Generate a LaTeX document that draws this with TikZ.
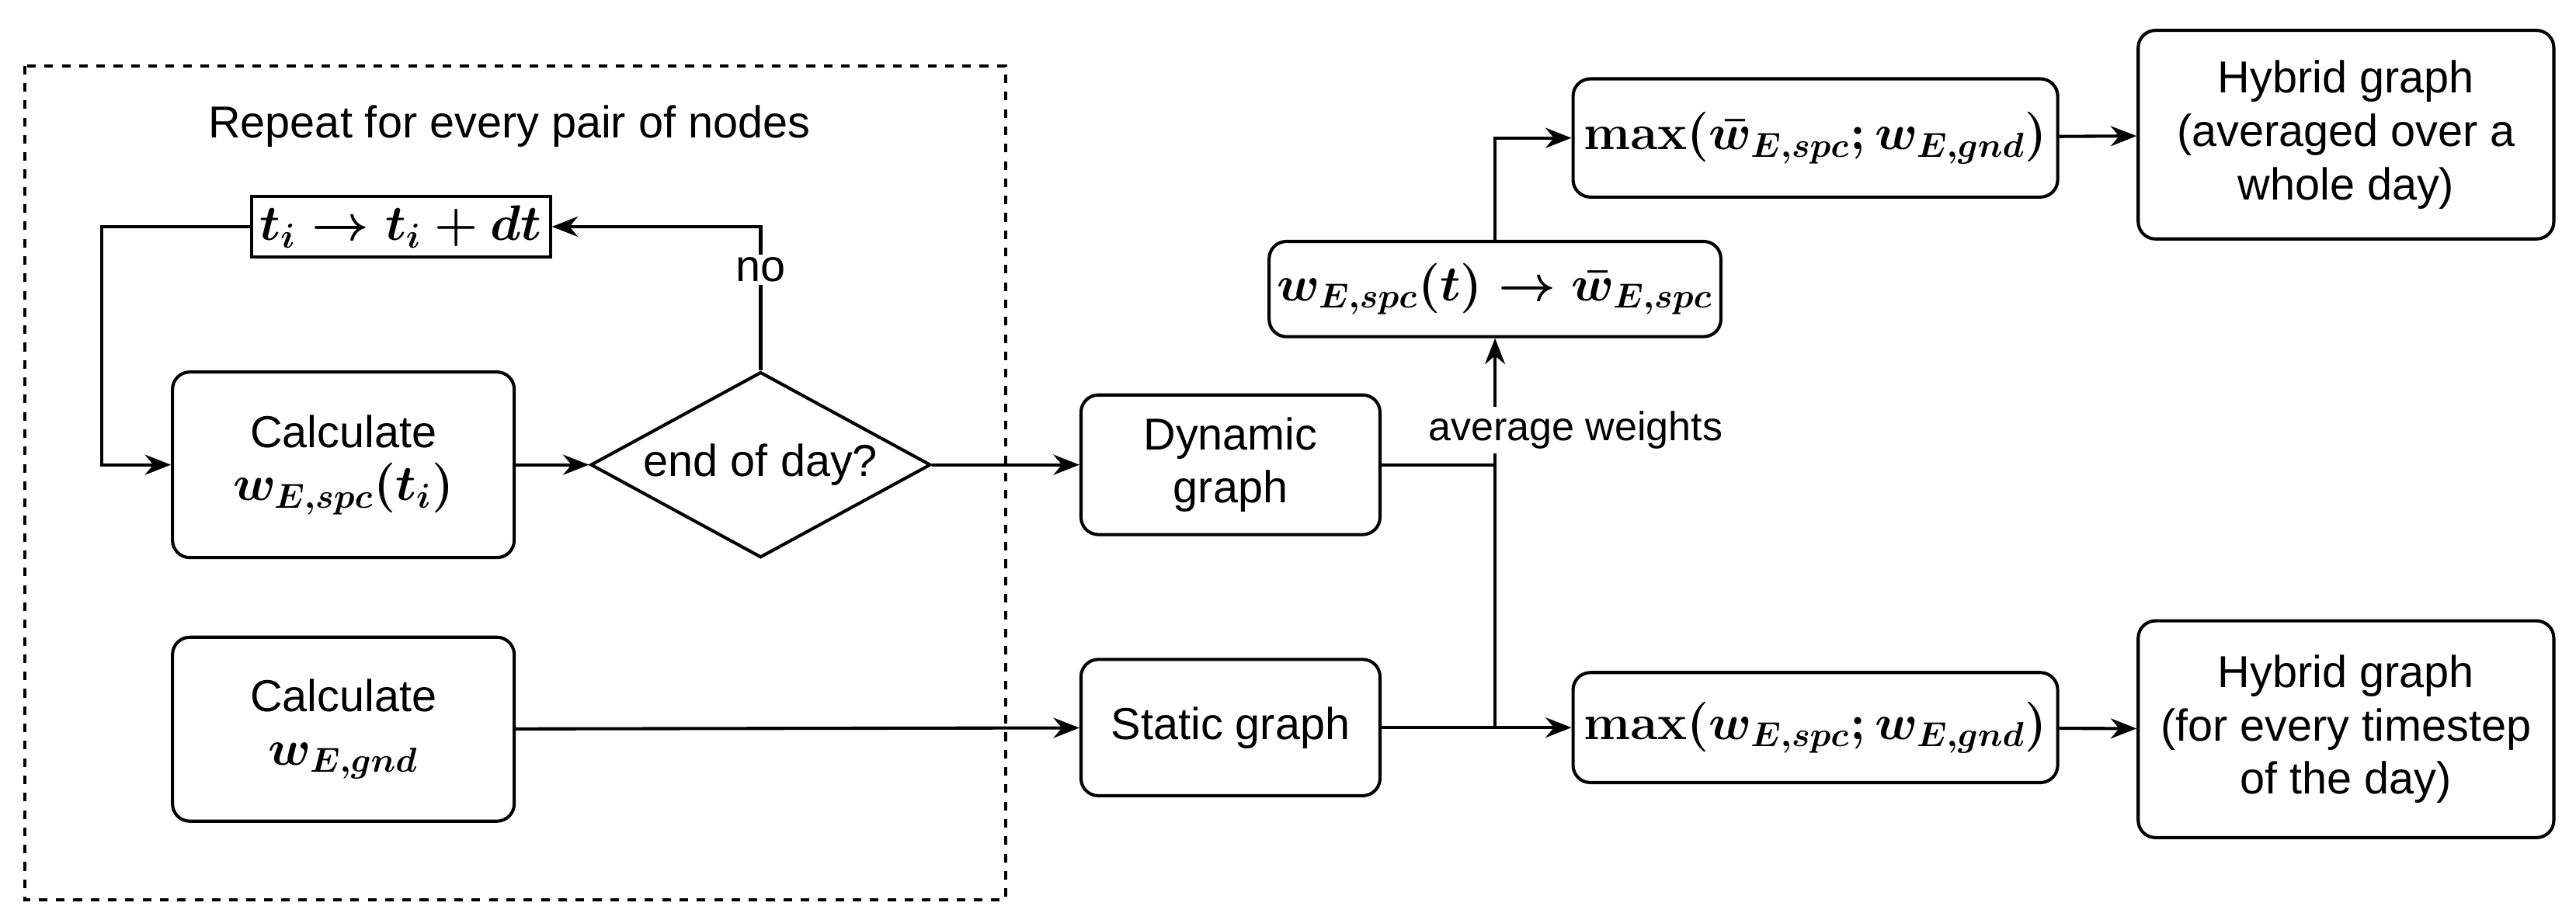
\documentclass[tikz,border=0pt]{standalone}
\usepackage{fontspec}
\setmainfont{Liberation Sans}
\usepackage{amsmath}
\usetikzlibrary{arrows.meta,shapes.geometric,positioning}

\begin{document}
\begin{tikzpicture}[x=0.02cm,y=-0.02cm,->,>={Stealth[length=9pt,width=7pt]},line width=1.1pt,
      font=\fontsize{15.5}{18.5}\selectfont,
      box/.style={draw,rounded corners=6pt,align=center,inner sep=2pt},
      plain/.style={draw,align=center,inner sep=2pt},
      formula/.style={font=\fontsize{17}{20}\selectfont\boldmath}]
      \useasboundingbox (0,0) rectangle (1568,560);
      \draw[-,dashed] (15,40) rectangle (612,548);
      \node at (310,77) {Repeat for every pair of nodes};

      \node[plain,formula,minimum width=182*0.02cm,minimum height=37*0.02cm] (step) at (244,138) {$t_i \rightarrow t_i+dt$};
      \node[box,minimum width=208*0.02cm,minimum height=113*0.02cm] (calcspc) at (209,283) {Calculate\\{\fontsize{17}{20}\selectfont\boldmath$w_{E,spc}(t_i)$}};
      \node[diamond,draw,aspect=1.85,minimum width=207*0.02cm,minimum height=113*0.02cm,inner sep=0pt] (eod) at (463,283) {end of day?};
      \node[box,minimum width=208*0.02cm,minimum height=112*0.02cm] (calcgnd) at (209,444) {Calculate\\{\fontsize{17}{20}\selectfont\boldmath$w_{E,gnd}$}};

      \node[box,minimum width=182*0.02cm,minimum height=85*0.02cm] (dynamic) at (749,283) {Dynamic\\graph};
      \node[box,minimum width=182*0.02cm,minimum height=83*0.02cm] (static) at (749,443) {Static graph};

      \node[box,formula,minimum width=275*0.02cm,minimum height=58*0.02cm] (avg) at (910,176) {$w_{E,spc}(t) \rightarrow \bar{w}_{E,spc}$};
      \node[box,formula,minimum width=295*0.02cm,minimum height=72*0.02cm] (maxtop) at (1105,84) {$\mathbf{max}(\bar{w}_{E,spc};w_{E,gnd})$};
      \node[box,formula,minimum width=295*0.02cm,minimum height=67*0.02cm] (maxbot) at (1105,443) {$\mathbf{max}(w_{E,spc};w_{E,gnd})$};

      \node[box,minimum width=253*0.02cm,minimum height=127*0.02cm] (hybtop) at (1428,82) {Hybrid graph\\(averaged over a\\whole day)};
      \node[box,minimum width=253*0.02cm,minimum height=132*0.02cm] (hybbot) at (1428,444) {Hybrid graph\\(for every timestep\\of the day)};

      \node[fill=white,inner sep=1pt,font=\fontsize{14}{16}\selectfont] (avglabel) at (959,262) {average weights};
      \coordinate (split) at (910,443);

      \draw (eod.north) -- node[pos=0.7,fill=white,inner sep=1pt] {no} (463,138) -- (step.east);
      \draw (step.west) -- (62,138) -- (62,283) -- (calcspc.west);

      \foreach \from/\to in {calcspc/eod,eod/dynamic,calcgnd/static,maxtop/hybtop,maxbot/hybbot,split/maxbot}
	\draw (\from) -- (\to);
      \draw[-] (dynamic.east) -- (910,283);
      \draw[-] (static.east) -- (split);
      \draw[-] (split) -- (avglabel.south -| split);
      \draw (avglabel.north -| split) -- (avg.south);
      \draw (avg.north) -- (910,84) -- (maxtop.west);
\end{tikzpicture}
\end{document}
